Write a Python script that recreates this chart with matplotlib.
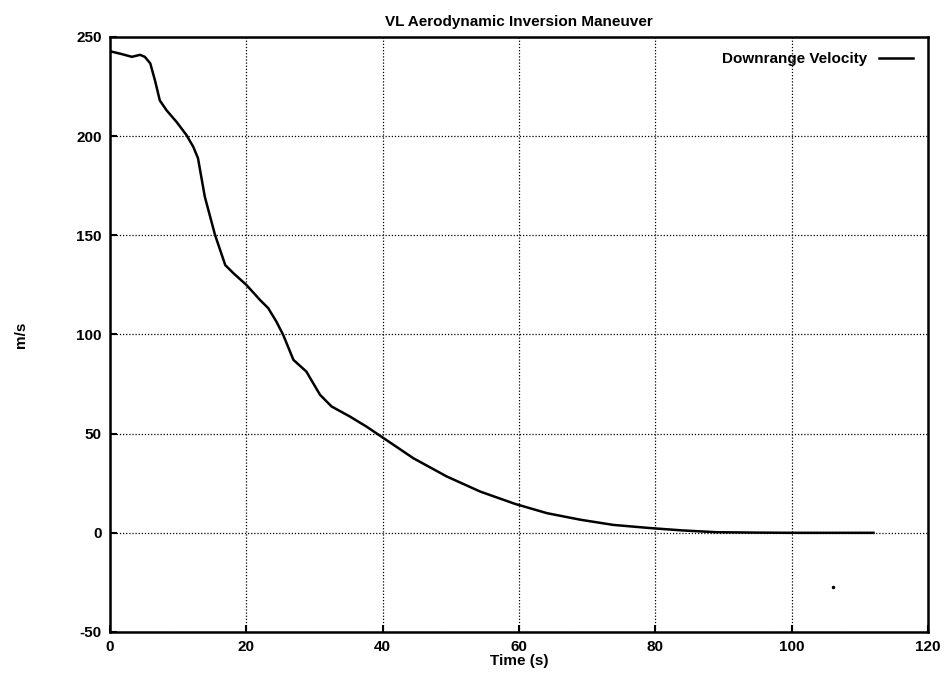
import matplotlib
matplotlib.use("Agg")
import matplotlib.pyplot as plt

# Downrange velocity
time_s = [0, 0.25, 1.7, 3.2, 4.4, 5.1, 5.9, 6.6, 7.3, 8.3, 9.8, 11.2, 12.2,
          12.9, 13.9, 15.4, 16.9, 18.1, 20.0, 22.0, 23.2, 24.4, 25.4, 26.9,
          28.8, 30.8, 32.5, 35.2, 37.6, 39.8, 44.5, 49.4, 54.3, 59.4, 64.1,
          69.0, 73.8, 79.2, 84.0, 89.0, 95.0, 100.0, 106.0, 112.0]
velocity = [243, 242.6, 241.4, 240, 241, 240, 236.7, 228, 218, 213, 207, 200.6, 194.7,
            188.9, 169.5, 150.2, 135, 130.9, 125, 117.4, 113.3, 106.5, 99.8, 87.2,
            81.3, 69.6, 63.7, 58.6, 53.6, 48.5, 37.6, 28.4, 20.8, 14.6, 9.9,
            6.6, 4.0, 2.4, 1.2, 0.3, 0.1, 0.0, 0.0, 0.0]

# stray speck in the scan
speck_x = [106.1]
speck_y = [-27.4]

plt.rcParams["font.family"] = ["Liberation Sans", "DejaVu Sans"]
plt.rcParams["font.weight"] = "bold"
plt.rcParams["axes.unicode_minus"] = False

fig = plt.figure(figsize=(9.47, 6.85), dpi=100)
ax = fig.add_axes([0.1162, 0.0774, 0.8638, 0.8686])

ax.plot(time_s, velocity, color="black", lw=1.8, label="Downrange Velocity",
        solid_joinstyle="round")
ax.plot(speck_x, speck_y, "o", color="black", ms=1.5)

ax.set_xlim(0, 120)
ax.set_ylim(-50, 250)
ax.set_xticks(range(0, 121, 20))
ax.set_yticks(range(-50, 251, 50))
ax.grid(True, color="black", linestyle=(0, (1, 1.5)), linewidth=0.9)
ax.tick_params(direction="in", length=5, width=1.5, labelsize=11, pad=6)
for s in ax.spines.values():
    s.set_linewidth(1.8)

ax.set_title("VL Aerodynamic Inversion Maneuver", fontsize=11, fontweight="bold", pad=8)
ax.set_xlabel("Time (s)", fontsize=11, fontweight="bold", labelpad=0)
ax.set_ylabel("m/s", fontsize=11, fontweight="bold", labelpad=35)

leg = ax.legend(loc="upper right", frameon=False, markerfirst=False,
                fontsize=11, handlelength=2.2, borderaxespad=0.6)

plt.savefig("out.png", dpi=100)
